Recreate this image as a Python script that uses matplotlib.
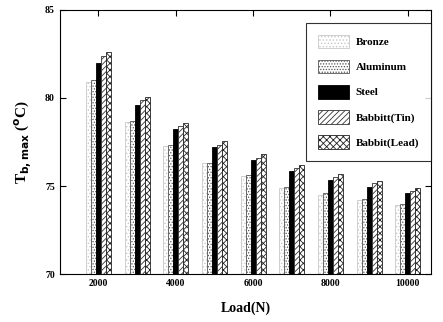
import numpy as np
import matplotlib
matplotlib.use('Agg')
import matplotlib.pyplot as plt

# dados
cargas = [2000, 3000, 4000, 5000, 6000, 7000, 8000, 9000, 10000]
bronze = [80.9, 78.65, 77.3, 76.3, 75.55, 74.9, 74.5, 74.2, 73.9]
aluminio = [81.0, 78.7, 77.35, 76.3, 75.6, 74.95, 74.58, 74.25, 73.95]
aco = [82.0, 79.6, 78.25, 77.2, 76.45, 75.85, 75.35, 74.95, 74.6]
babbitt_tin = [82.4, 79.9, 78.4, 77.35, 76.6, 76.0, 75.5, 75.15, 74.7]
babbitt_lead = [82.6, 80.05, 78.6, 77.55, 76.8, 76.2, 75.7, 75.3, 74.9]

series = [
    ('Bronze', bronze),
    ('Aluminum', aluminio),
    ('Steel', aco),
    ('Babbitt(Tin)', babbitt_tin),
    ('Babbit(Lead)', babbitt_lead),
]
estilos = [
    dict(facecolor='white', edgecolor='#c8c8c8', hatch='.....'),
    dict(facecolor='white', edgecolor='#555555', hatch='......'),
    dict(facecolor='black', edgecolor='black', hatch=None),
    dict(facecolor='white', edgecolor='#333333', hatch='//////'),
    dict(facecolor='white', edgecolor='#222222', hatch='xxxxx'),
]

plt.rcParams['font.family'] = 'Liberation Serif'
plt.rcParams['font.weight'] = 'bold'
plt.rcParams['hatch.linewidth'] = 0.6

fig = plt.figure(figsize=(4.43, 3.22), dpi=100)
ax = fig.add_axes([0.135, 0.149, 0.838, 0.82])

x = np.array(cargas, dtype=float)
largura = 130
for i, ((nome, vals), est) in enumerate(zip(series, estilos)):
    pos = x + (i - 2) * largura
    ax.bar(pos, np.array(vals) - 70, width=largura, bottom=70,
           label=nome, linewidth=0.6, **est)

ax.set_xlim(1000, 10600)
ax.set_ylim(70, 85)
ax.set_xticks([2000, 4000, 6000, 8000, 10000])
ax.set_yticks([70, 75, 80, 85])
ax.tick_params(direction='in', top=True, right=True, labelsize=7, length=4)
for lab in ax.get_xticklabels() + ax.get_yticklabels():
    lab.set_fontweight('bold')

ax.set_xlabel('Load(N)', fontsize=10, fontweight='bold', labelpad=10)
ax.set_ylabel(r'T$_{\rm b,max}$ ($^{\rm o}$C)', fontsize=11, fontweight='bold', labelpad=8)

leg = ax.legend(loc='upper right', bbox_to_anchor=(1.0, 0.951), borderaxespad=0,
                fontsize=8, frameon=True, fancybox=False, edgecolor='black',
                handlelength=2.8, handleheight=1.5, labelspacing=1.05,
                borderpad=1.05, handletextpad=0.6)
leg.get_frame().set_linewidth(0.8)
for t in leg.get_texts():
    t.set_fontweight('bold')

fig.savefig('out.png', dpi=100)
